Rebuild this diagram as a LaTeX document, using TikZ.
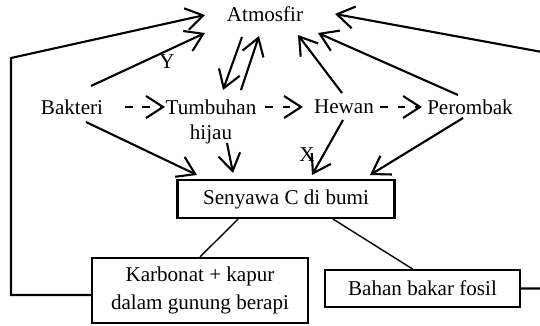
\documentclass[tikz,border=0pt]{standalone}
\usepackage{fontspec}
\setmainfont{Liberation Serif}
\usetikzlibrary{arrows.meta,calc}
\tikzset{
  txt/.style   ={inner sep=1pt,align=center,font=\fontsize{12}{14}\selectfont},
  cbox/.style  ={draw,line width=1.2pt,inner sep=0pt,align=center,
                 font=\fontsize{12}{14}\selectfont},
  flow/.style  ={-{Straight Barb[length=3.4mm,width=4.4mm]},line width=1.2pt},
  dflow/.style ={flow,dash pattern=on 1.5mm off 2mm},
  link/.style  ={line width=0.8pt},
}
\begin{document}
\begin{tikzpicture}[x=0.02cm,y=-0.02cm]
\useasboundingbox (0,0) rectangle (540,325);
% ---- organisms and atmosphere ----
\node[txt] (atm) at (265,14)  {Atmosfir};
\node[txt] (bak) at (72,107)  {Bakteri};
\node[txt] (tum) at (211,122) {Tumbuhan\\hijau};
\node[txt] (hew) at (344,107) {Hewan};
\node[txt] (per) at (470,107) {Perombak};
% ---- boxes ----
\node[cbox,minimum width=4.34cm,minimum height=0.76cm] (sen) at (286,199) {Senyawa C di bumi};
\node[cbox,minimum width=4.32cm,minimum height=1.3cm,font=\fontsize{12}{16}\selectfont]
  (kar) at (200,290.5) {Karbonat + kapur\\dalam gunung berapi};
\node[cbox,minimum width=3.9cm,minimum height=0.74cm] (fos) at (422.5,288.5) {Bahan bakar fosil};
% ---- dashed food chain ----
\draw[dflow] ($(bak)+(53,0)$) -- ($(tum)+(-46,-15)$);
\draw[dflow] ($(tum)+(54,-15)$) -- ($(hew)+(-41,0)$);
\draw[dflow] ($(hew)+(36,0)$) -- ($(per)+(-48,0)$);
% ---- to the atmosphere ----
\draw[flow] ($(bak)+(19,-21)$) -- ($(atm)+(-60,19)$);
\node[txt] (y) at (167,62) {Y};
\draw[flow] ($(atm)+(-23,23)$) -- ($(tum)+(12,-32)$);
\draw[flow] ($(tum)+(30,-32)$) -- ($(atm)+(-6,22)$);
\draw[flow] ($(hew)+(-2,-14)$) -- ($(atm)+(33,21)$);
\draw[flow] ($(per)+(-12,-12)$) -- ($(atm)+(53,19)$);
\draw[flow] ([yshift=-0.09cm]kar.west) -- ++(-80,0) -- ++(0,-237) -- ($(atm)+(-60,1)$);
\draw[flow] (fos.east) -- ++(40,0) -- ++(0,-233) -- ($(atm)+(70,0)$);
% ---- to the earth ----
\draw[flow] ($(bak)+(14,15)$) -- ($(sen)+(-89,-24)$);
\draw[flow] ($(tum)+(16,21)$) -- ($(sen)+(-53,-26)$);
\draw[flow] ($(hew)+(-1,13)$) -- ($(sen)+(26,-24)$);
\node[txt] (x) at (307,155) {X};
\draw[flow] ($(per)+(-7,11)$) -- ($(sen)+(84,-24)$);
\draw[link] ($(sen.south)+(-48,0)$) -- ($(kar.north)+(0,0)$);
\draw[link] ($(sen.south)+(47,0)$) -- ($(fos.north)+(-10,0)$);
\end{tikzpicture}
\end{document}
